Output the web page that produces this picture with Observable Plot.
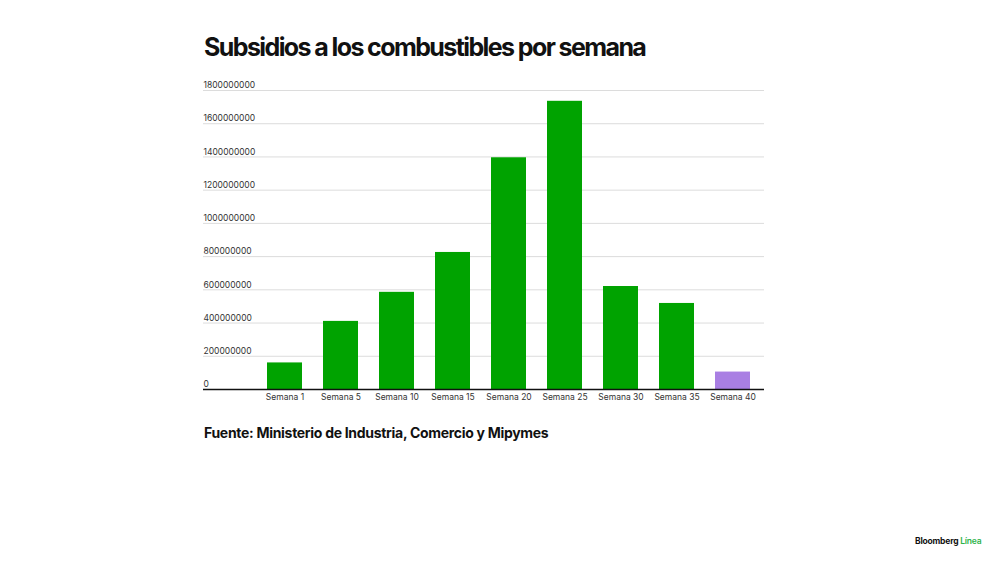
<!DOCTYPE html>
<html>
<head>
<meta charset="utf-8">
<script src="https://cdn.jsdelivr.net/npm/d3@7"></script>
<script src="https://cdn.jsdelivr.net/npm/@observablehq/plot@0.6"></script>
<style>
  html, body { margin: 0; padding: 0; background: #fff; }
  #page { position: relative; width: 1000px; height: 562px; overflow: hidden; font-family: Inter, "Liberation Sans", sans-serif; }
  #title { position: absolute; left: 204px; top: 32px; font-size: 25px; font-weight: 700; letter-spacing: -1.6px; color: #111; white-space: nowrap; }
  #chart { position: absolute; left: 0; top: 70px; }
  #source { position: absolute; left: 204px; top: 424px; font-size: 14px; font-weight: 700; letter-spacing: -0.3px; color: #111; white-space: nowrap; }
  #logo { position: absolute; left: 915px; top: 536px; font-size: 8.5px; font-weight: 700; letter-spacing: -0.2px; color: #111; white-space: nowrap; }
  #logo span { color: #2db34a; font-weight: 600; }
</style>
</head>
<body>
<div id="page">
  <div id="title">Subsidios a los combustibles por semana</div>
  <div id="chart"></div>
  <div id="source">Fuente: Ministerio de Industria, Comercio y Mipymes</div>
  <div id="logo">Bloomberg <span>Línea</span></div>
</div>
<script>
const semanas = ["Semana 1", "Semana 5", "Semana 10", "Semana 15", "Semana 20", "Semana 25", "Semana 30", "Semana 35", "Semana 40"];
const subsidios = [160000000, 410000000, 585000000, 825000000, 1395000000, 1735000000, 620000000, 518000000, 105000000];
const colores = ["#00a300", "#00a300", "#00a300", "#00a300", "#00a300", "#00a300", "#00a300", "#00a300", "#a97fe3"];
const yTicks = [0, 200000000, 400000000, 600000000, 800000000, 1000000000, 1200000000, 1400000000, 1600000000, 1800000000];

const data = semanas.map((s, i) => ({semana: s, valor: subsidios[i], color: colores[i]}));

const chart = Plot.plot({
  width: 1000,
  height: 340,
  marginLeft: 203,
  marginRight: 236,
  marginTop: 20,
  marginBottom: 21,
  style: {fontFamily: "Inter, 'Liberation Sans', sans-serif", background: "#fff"},
  x: {domain: semanas, range: [256, 760], paddingInner: 0.375, paddingOuter: 0.1875, label: null, axis: null},
  y: {domain: [0, 1800000000], label: null, axis: null},
  marks: [
    Plot.ruleY(yTicks.filter(d => d > 0), {stroke: "#dcdcdc", strokeWidth: 1}),
    Plot.barY(data, {x: "semana", y: "valor", fill: "color"}),
    Plot.ruleY([0], {stroke: "#111", strokeWidth: 1.5}),
    Plot.text(yTicks, {y: d => d, text: d => String(d), frameAnchor: "left", textAnchor: "start", dy: -5, fontSize: 8.5, fill: "#333", letterSpacing: -0.2}),
    Plot.axisX({tickSize: 0, tickPadding: 4, fontSize: 8.5, color: "#333", label: null, style: {letterSpacing: "-0.3px"}})
  ]
});
document.getElementById("chart").appendChild(chart);
</script>
</body>
</html>
